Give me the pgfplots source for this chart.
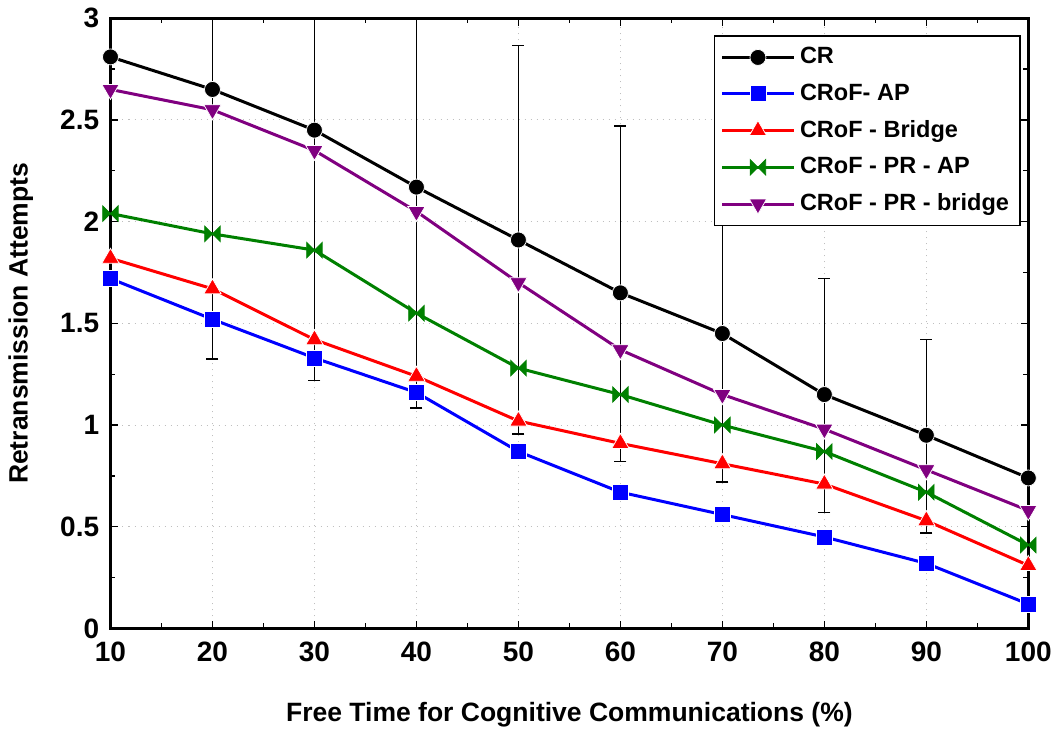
\documentclass[border=0pt]{standalone}
\usepackage{fontspec}
\setmainfont{Liberation Sans}
\usepackage{pgfplots}
\pgfplotsset{compat=1.18}

% horizontal bow-tie mark for the PR-AP series
\pgfdeclareplotmark{bowtie}{%
  \pgfpathmoveto{\pgfqpoint{-\pgfplotmarksize}{\pgfplotmarksize}}%
  \pgfpathlineto{\pgfqpoint{0pt}{0pt}}%
  \pgfpathlineto{\pgfqpoint{-\pgfplotmarksize}{-\pgfplotmarksize}}%
  \pgfpathclose
  \pgfpathmoveto{\pgfqpoint{\pgfplotmarksize}{\pgfplotmarksize}}%
  \pgfpathlineto{\pgfqpoint{0pt}{0pt}}%
  \pgfpathlineto{\pgfqpoint{\pgfplotmarksize}{-\pgfplotmarksize}}%
  \pgfpathclose
  \pgfusepathqfillstroke}

\definecolor{cgreen}{RGB}{0,128,0}
\definecolor{cpurple}{RGB}{128,0,128}

\begin{document}
\begin{tikzpicture}
\begin{axis}[
    scale only axis,
    width=367pt,
    height=244pt,
    xmin=10, xmax=100,
    ymin=0, ymax=3,
    xtick={10,20,...,100},
    ytick={0,0.5,...,3},
    yticklabels={0,0.5,1,1.5,2,2.5,3},
    minor x tick num=1,
    minor y tick num=1,
    tick align=inside,
    major tick length=3pt,
    minor tick length=2pt,
    axis line style={line width=1.2pt},
    tick style={black, line width=0.5pt},
    grid=major,
    major grid style={gray!50, dotted, line width=0.4pt},
    /pgf/number format/assume math mode=true,
    tick label style={font=\fontsize{11.2}{12}\selectfont\bfseries},
    xticklabel style={yshift=-2pt},
    yticklabel style={xshift=-1pt},
    label style={font=\fontsize{10.6}{12}\selectfont\bfseries},
    xlabel={Free Time for Cognitive Communications (\%)},
    ylabel={Retransmission Attempts},
    xlabel style={yshift=-9pt},
    ylabel style={yshift=4pt},
    legend style={
        at={(0.992,0.972)},
        anchor=north east,
        draw=black,
        line width=0.6pt,
        fill=white,
        font=\fontsize{9.4}{11}\selectfont\bfseries,
        row sep=2.5pt,
        inner sep=2.5pt,
    },
    legend cell align=left,
    legend image code/.code={%
        \draw[#1, mark repeat=2, mark phase=2]
        plot coordinates {(0cm,0cm) (0.5cm,0cm) (1.0cm,0cm)};},
    every axis plot/.append style={line width=1.2pt},
]

% error bars (drawn first, behind the curves)
\addplot[forget plot, draw=none, mark=none, line width=0.6pt,
    error bars/.cd, y dir=both, y explicit,
    error bar style={black, line width=0.6pt},
    error mark options={rotate=90, mark size=2.4pt, line width=0.6pt}]
coordinates {
    (20,2.325) +- (0,1.0)
    (30,2.27)  +- (0,1.05)
    (40,2.2)   +- (0,1.115)
    (50,1.912) +- (0,0.955)
    (60,1.645) +- (0,0.825)
    (70,1.46)  +- (0,0.74)
    (80,1.145) +- (0,0.575)
    (90,0.945) +- (0,0.475)
};

\addplot[color=black, mark=*, mark size=3.2pt, mark options={fill=black, draw=white, line width=0.3pt}] coordinates {
    (10,2.81) (20,2.65) (30,2.45) (40,2.17) (50,1.91)
    (60,1.65) (70,1.45) (80,1.15) (90,0.95) (100,0.74)
};
\addlegendentry{CR}

\addplot[color=blue, mark=square*, mark size=3.2pt, mark options={fill=blue, draw=white, line width=0.3pt}] coordinates {
    (10,1.72) (20,1.52) (30,1.33) (40,1.16) (50,0.87)
    (60,0.67) (70,0.56) (80,0.45) (90,0.32) (100,0.12)
};
\addlegendentry{CRoF- AP}

\addplot[color=red, mark=triangle*, mark size=4pt, mark options={fill=red, draw=white, line width=0.3pt}] coordinates {
    (10,1.82) (20,1.67) (30,1.42) (40,1.24) (50,1.02)
    (60,0.91) (70,0.81) (80,0.71) (90,0.53) (100,0.31)
};
\addlegendentry{CRoF - Bridge}

\addplot[color=cgreen, mark=bowtie, mark size=3.1pt, mark options={fill=cgreen, draw=cgreen, line width=0.3pt}] coordinates {
    (10,2.04) (20,1.94) (30,1.86) (40,1.55) (50,1.28)
    (60,1.15) (70,1.00) (80,0.87) (90,0.67) (100,0.41)
};
\addlegendentry{CRoF - PR - AP}

\addplot[color=cpurple, mark=triangle*, mark size=4pt, mark options={rotate=180, fill=cpurple, draw=white, line width=0.3pt}] coordinates {
    (10,2.65) (20,2.55) (30,2.35) (40,2.05) (50,1.70)
    (60,1.37) (70,1.15) (80,0.98) (90,0.78) (100,0.58)
};
\addlegendentry{CRoF - PR - bridge}

\end{axis}
\end{tikzpicture}
\end{document}
